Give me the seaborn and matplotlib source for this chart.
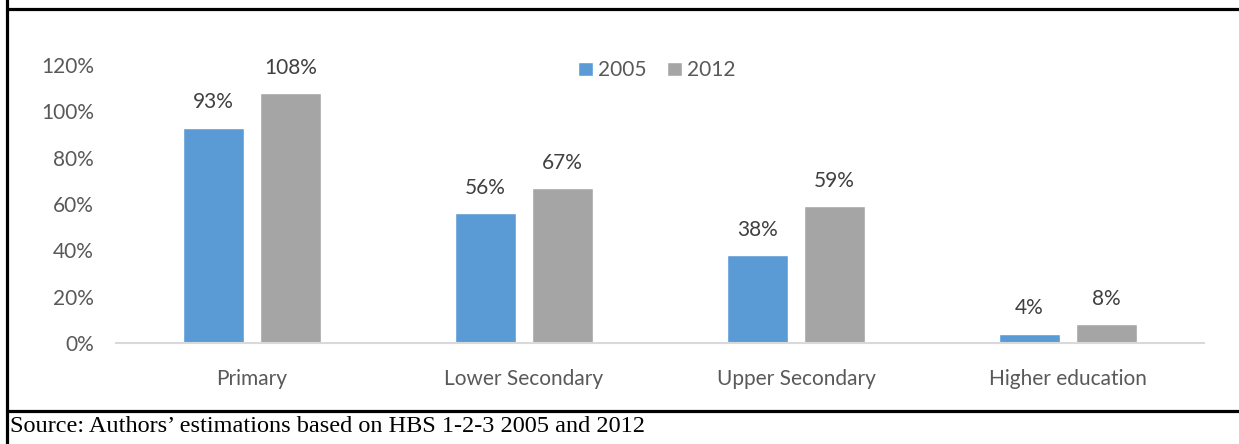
import matplotlib
matplotlib.use("Agg")
import matplotlib.pyplot as plt
from matplotlib.lines import Line2D
import seaborn as sns
import pandas as pd

# Gross enrollment rates (%) by education level
levels = ["Primary", "Lower Secondary", "Upper Secondary", "Higher education"]
years = ["2005", "2012"]
rate_2005 = [93, 56, 38, 4]
rate_2012 = [108, 67, 59, 8]
y_ticks = [0, 20, 40, 60, 80, 100, 120]
source_note = "Source: Authors\u2019 estimations based on HBS 1-2-3 2005 and 2012"

df = pd.DataFrame({
    "level": levels * 2,
    "year": [years[0]] * len(levels) + [years[1]] * len(levels),
    "rate": rate_2005 + rate_2012,
})

sns.set_theme(style="white")
plt.rcParams["font.family"] = ["Lato", "DejaVu Sans"]

W, H = 1239, 444
fs = 15
fig = plt.figure(figsize=(W / 100, H / 100), dpi=100)
ax = fig.add_axes([116 / W, 1 - 343 / H, (1204 - 116) / W, (343 - 65) / H])

palette = {"2005": "#5b9bd5", "2012": "#a5a5a5"}
sns.barplot(data=df, x="level", y="rate", hue="year", order=levels,
            hue_order=years, palette=palette, width=0.566, gap=0.209,
            saturation=1, ax=ax, legend=True)

for cont in ax.containers:
    ax.bar_label(cont, fmt="%g%%", padding=11, fontsize=fs, color="#404040")

ax.set_ylim(0, 120)
ax.set_xlim(-0.5, len(levels) - 0.5)
ax.set_yticks(y_ticks)
ax.set_yticklabels([f"{t}%" for t in y_ticks])
ax.set_xlabel("")
ax.set_ylabel("")
ax.tick_params(axis="both", length=0, labelsize=fs, labelcolor="#595959")
ax.tick_params(axis="y", pad=16)
ax.tick_params(axis="x", pad=19)
for side in ["top", "right", "left"]:
    ax.spines[side].set_visible(False)
ax.spines["bottom"].set_color("#d9d9d9")
ax.spines["bottom"].set_linewidth(1.5)
ax.grid(False)

leg = ax.legend(loc="upper center", bbox_to_anchor=(0.497, 1.085), ncol=2,
                frameon=False, fontsize=fs, handlelength=0.7,
                handleheight=0.7, handletextpad=0.25, columnspacing=1.0)
for t in leg.get_texts():
    t.set_color("#595959")

# Frame rules around the figure box
lw = 2.3
fig.add_artist(Line2D([7 / W, 7 / W], [0, 1], transform=fig.transFigure,
                      color="black", lw=lw))
fig.add_artist(Line2D([7 / W, 1], [1 - 9 / H, 1 - 9 / H], transform=fig.transFigure,
                      color="black", lw=lw))
fig.add_artist(Line2D([7 / W, 1], [1 - 411 / H, 1 - 411 / H], transform=fig.transFigure,
                      color="black", lw=lw))

fig.text(10 / W, 1 - 426 / H, source_note, fontsize=17.5,
         family=["Liberation Serif", "DejaVu Serif"], color="black", va="center")

fig.savefig("out.png", dpi=100, facecolor="white")
